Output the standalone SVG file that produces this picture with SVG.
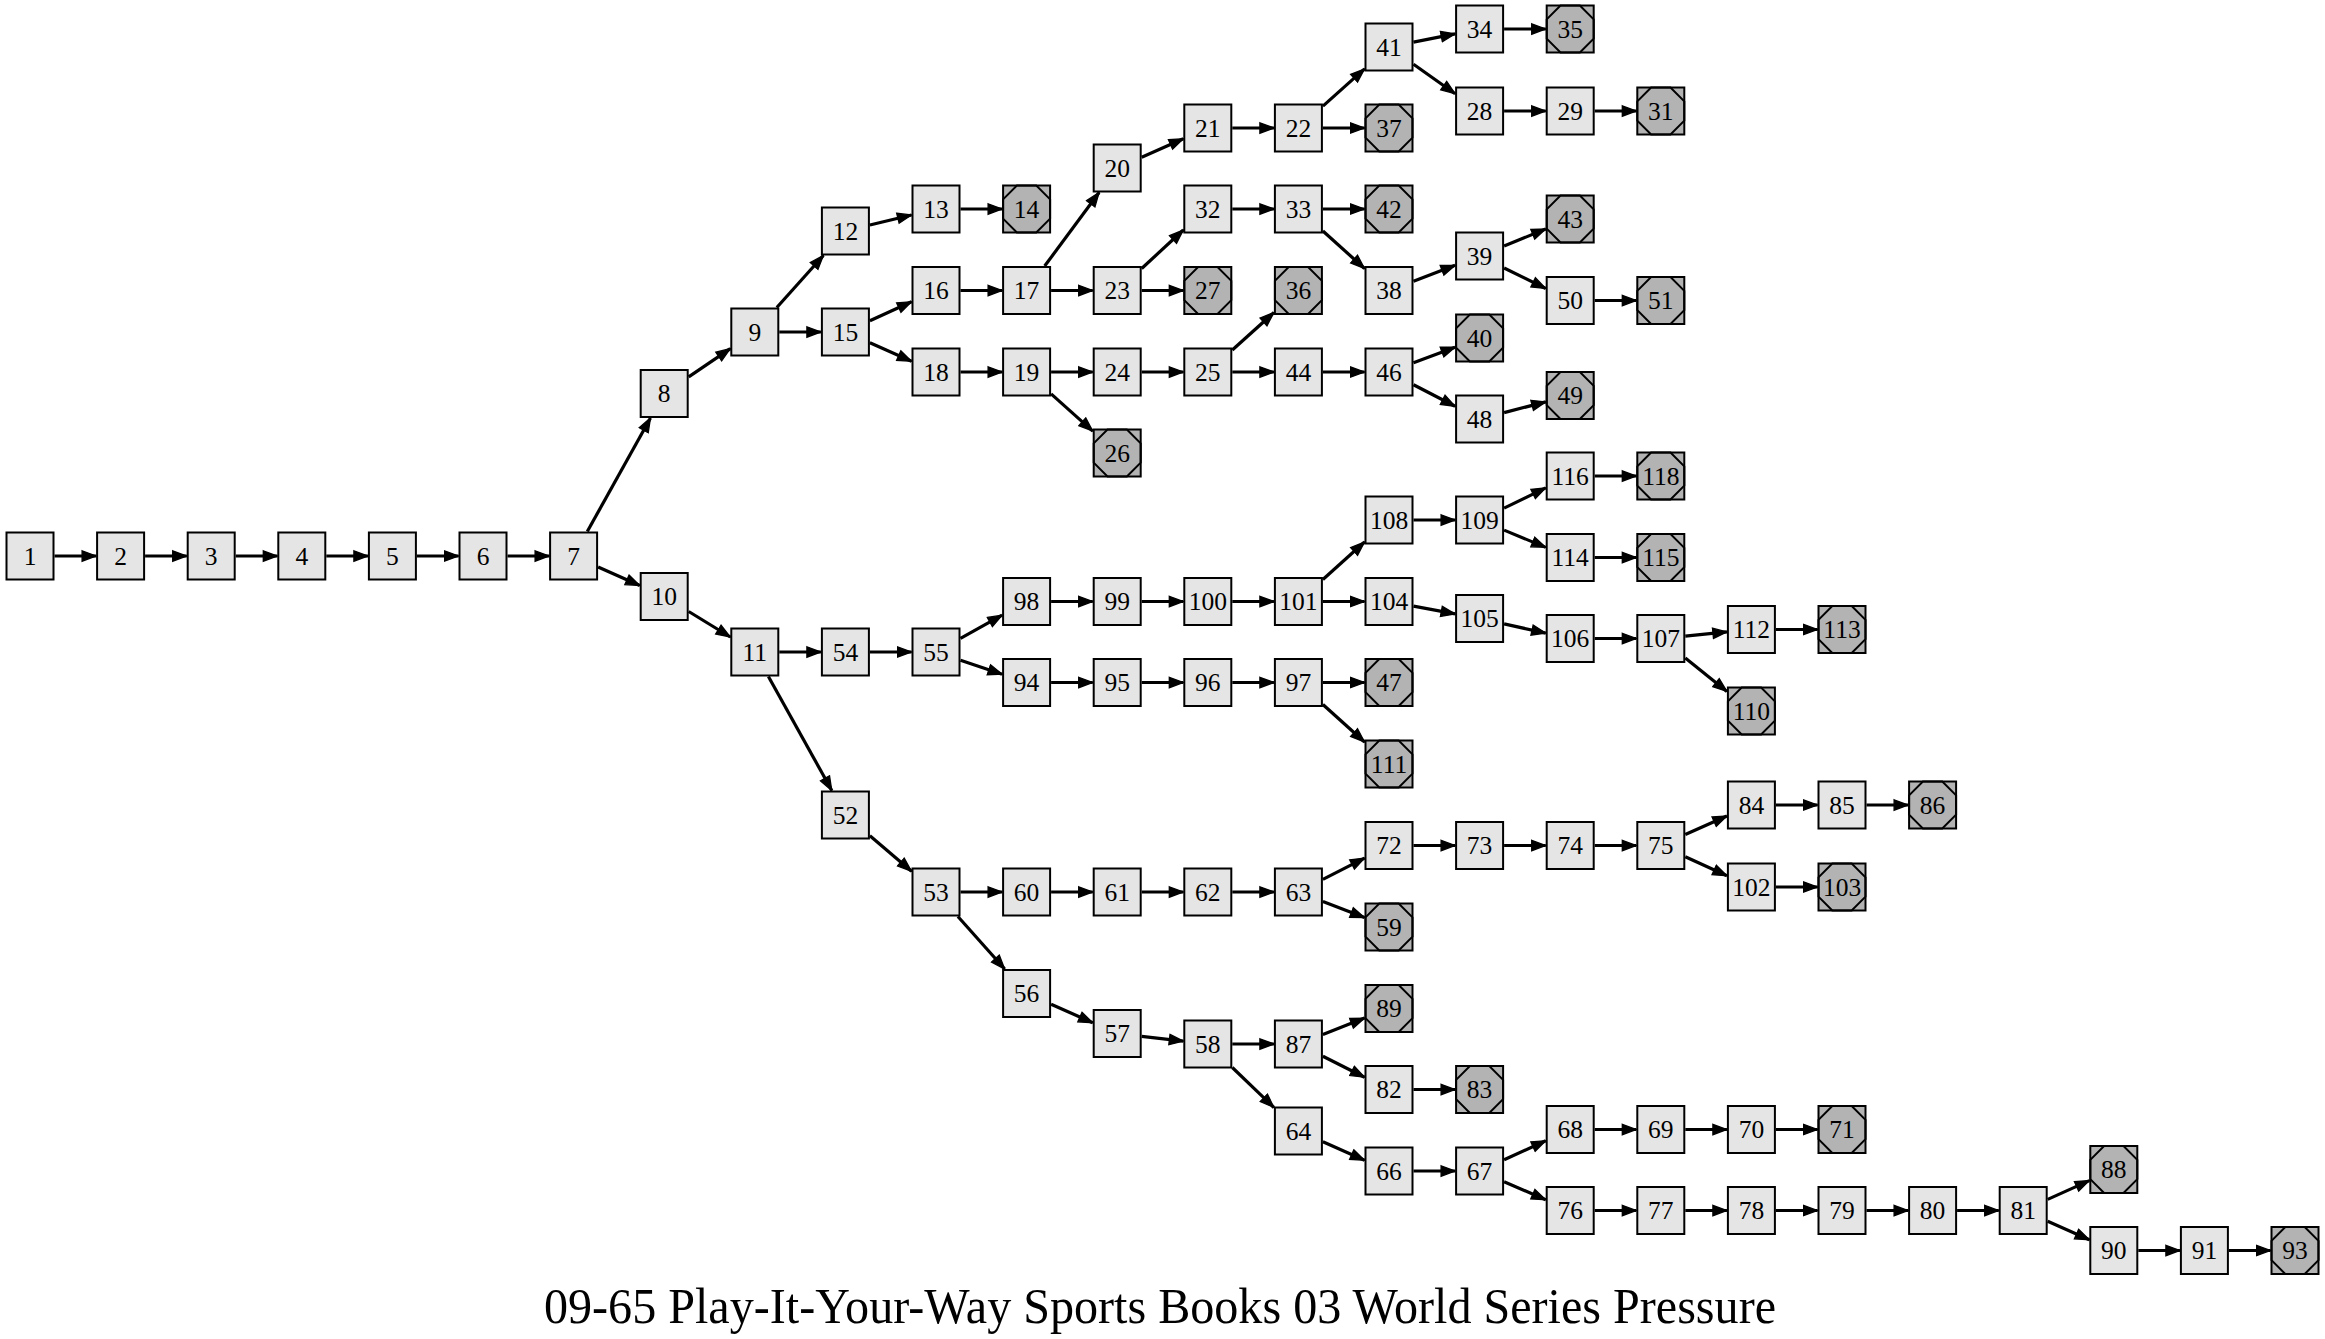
<svg xmlns="http://www.w3.org/2000/svg" xmlns:xlink="http://www.w3.org/1999/xlink" width="2325" height="1339" viewBox="0 0 2325 1339">
<style>
.node{fill:#e5e5e5;stroke:#000;stroke-width:2}
.end{fill:#b3b3b3}
.oct{fill:none}
.node text{fill:#000;stroke:none;font-family:"Liberation Serif","Times New Roman",serif;font-size:25.5px;text-anchor:middle}
#edges line{stroke:#000;stroke-width:3.2;marker-end:url(#arr)}
.title{font-family:"Liberation Serif","Times New Roman",serif;font-size:50px;text-anchor:middle;fill:#000}
</style>
<defs>
<marker id="arr" markerUnits="userSpaceOnUse" markerWidth="18" markerHeight="14" viewBox="0 0 18 14" refX="15" refY="7" orient="auto">
<path d="M1,1.8 L15,7 L1,12.2 z" fill="#000" stroke="#000" stroke-width="1.3"/>
</marker>
<rect id="box" x="-23.5" y="-23.5" width="47" height="47"/>
<polygon id="octp" points="-9.7,-23.5 9.7,-23.5 23.5,-9.7 23.5,9.7 9.7,23.5 -9.7,23.5 -23.5,9.7 -23.5,-9.7"/>
</defs>
<rect width="2325" height="1339" fill="#fff"/>
<g id="edges">
<line x1="54.5" y1="556" x2="96.1" y2="556"/>
<line x1="145.1" y1="556" x2="186.7" y2="556"/>
<line x1="235.7" y1="556" x2="277.3" y2="556"/>
<line x1="326.3" y1="556" x2="367.9" y2="556"/>
<line x1="416.9" y1="556" x2="458.5" y2="556"/>
<line x1="507.5" y1="556" x2="549.1" y2="556"/>
<line x1="587.3" y1="531.5" x2="650.5" y2="418"/>
<line x1="598.1" y1="566.95" x2="639.7" y2="585.55"/>
<line x1="688.7" y1="376.87" x2="730.3" y2="348.63"/>
<line x1="776.8" y1="307.5" x2="823.4" y2="255.5"/>
<line x1="779.3" y1="332" x2="820.9" y2="332"/>
<line x1="869.9" y1="225.05" x2="911.5" y2="214.95"/>
<line x1="960.5" y1="209" x2="1002.1" y2="209"/>
<line x1="869.9" y1="320.78" x2="911.5" y2="301.72"/>
<line x1="869.9" y1="342.82" x2="911.5" y2="361.18"/>
<line x1="960.5" y1="290.5" x2="1002.1" y2="290.5"/>
<line x1="1044.7" y1="266" x2="1099.1" y2="192.5"/>
<line x1="1051.1" y1="290.5" x2="1092.7" y2="290.5"/>
<line x1="1141.7" y1="157.18" x2="1183.3" y2="138.82"/>
<line x1="1232.3" y1="128" x2="1273.9" y2="128"/>
<line x1="1322.9" y1="106.1" x2="1364.5" y2="68.9"/>
<line x1="1322.9" y1="128" x2="1364.5" y2="128"/>
<line x1="1413.5" y1="42.13" x2="1455.1" y2="33.87"/>
<line x1="1413.5" y1="64.31" x2="1455.1" y2="93.69"/>
<line x1="1504.1" y1="29" x2="1545.7" y2="29"/>
<line x1="1504.1" y1="111" x2="1545.7" y2="111"/>
<line x1="1594.7" y1="111" x2="1636.3" y2="111"/>
<line x1="1141.7" y1="268.46" x2="1183.3" y2="230.04"/>
<line x1="1141.7" y1="290.5" x2="1183.3" y2="290.5"/>
<line x1="1232.3" y1="209" x2="1273.9" y2="209"/>
<line x1="1322.9" y1="209" x2="1364.5" y2="209"/>
<line x1="1322.9" y1="231.04" x2="1364.5" y2="268.46"/>
<line x1="1413.5" y1="281.17" x2="1455.1" y2="265.33"/>
<line x1="1504.1" y1="246" x2="1545.7" y2="229"/>
<line x1="1504.1" y1="268.03" x2="1545.7" y2="288.47"/>
<line x1="1594.7" y1="300.5" x2="1636.3" y2="300.5"/>
<line x1="960.5" y1="372" x2="1002.1" y2="372"/>
<line x1="1051.1" y1="372" x2="1092.7" y2="372"/>
<line x1="1051.1" y1="393.9" x2="1092.7" y2="431.1"/>
<line x1="1141.7" y1="372" x2="1183.3" y2="372"/>
<line x1="1232.3" y1="349.96" x2="1273.9" y2="312.54"/>
<line x1="1232.3" y1="372" x2="1273.9" y2="372"/>
<line x1="1322.9" y1="372" x2="1364.5" y2="372"/>
<line x1="1413.5" y1="362.81" x2="1455.1" y2="347.19"/>
<line x1="1413.5" y1="384.71" x2="1455.1" y2="406.29"/>
<line x1="1504.1" y1="412.65" x2="1545.7" y2="401.85"/>
<line x1="688.7" y1="611.51" x2="730.3" y2="636.99"/>
<line x1="779.3" y1="652" x2="820.9" y2="652"/>
<line x1="768.4" y1="676.5" x2="831.8" y2="790.5"/>
<line x1="869.9" y1="652" x2="911.5" y2="652"/>
<line x1="960.5" y1="638.34" x2="1002.1" y2="615.16"/>
<line x1="960.5" y1="660.25" x2="1002.1" y2="674.25"/>
<line x1="1051.1" y1="601.5" x2="1092.7" y2="601.5"/>
<line x1="1141.7" y1="601.5" x2="1183.3" y2="601.5"/>
<line x1="1232.3" y1="601.5" x2="1273.9" y2="601.5"/>
<line x1="1322.9" y1="579.46" x2="1364.5" y2="542.04"/>
<line x1="1322.9" y1="601.5" x2="1364.5" y2="601.5"/>
<line x1="1413.5" y1="520" x2="1455.1" y2="520"/>
<line x1="1504.1" y1="508.1" x2="1545.7" y2="487.9"/>
<line x1="1504.1" y1="530.14" x2="1545.7" y2="547.36"/>
<line x1="1594.7" y1="476" x2="1636.3" y2="476"/>
<line x1="1594.7" y1="557.5" x2="1636.3" y2="557.5"/>
<line x1="1413.5" y1="606.1" x2="1455.1" y2="613.9"/>
<line x1="1504.1" y1="623.91" x2="1545.7" y2="633.09"/>
<line x1="1594.7" y1="638.5" x2="1636.3" y2="638.5"/>
<line x1="1685.3" y1="636.07" x2="1726.9" y2="631.93"/>
<line x1="1685.3" y1="658.1" x2="1726.9" y2="691.4"/>
<line x1="1775.9" y1="629.5" x2="1817.5" y2="629.5"/>
<line x1="1051.1" y1="682.5" x2="1092.7" y2="682.5"/>
<line x1="1141.7" y1="682.5" x2="1183.3" y2="682.5"/>
<line x1="1232.3" y1="682.5" x2="1273.9" y2="682.5"/>
<line x1="1322.9" y1="682.5" x2="1364.5" y2="682.5"/>
<line x1="1322.9" y1="704.54" x2="1364.5" y2="741.96"/>
<line x1="869.9" y1="835.82" x2="911.5" y2="871.18"/>
<line x1="960.5" y1="892" x2="1002.1" y2="892"/>
<line x1="957.9" y1="916.5" x2="1004.7" y2="969"/>
<line x1="1051.1" y1="892" x2="1092.7" y2="892"/>
<line x1="1141.7" y1="892" x2="1183.3" y2="892"/>
<line x1="1232.3" y1="892" x2="1273.9" y2="892"/>
<line x1="1322.9" y1="879.43" x2="1364.5" y2="858.07"/>
<line x1="1322.9" y1="901.46" x2="1364.5" y2="917.54"/>
<line x1="1413.5" y1="845.5" x2="1455.1" y2="845.5"/>
<line x1="1504.1" y1="845.5" x2="1545.7" y2="845.5"/>
<line x1="1594.7" y1="845.5" x2="1636.3" y2="845.5"/>
<line x1="1685.3" y1="834.55" x2="1726.9" y2="815.95"/>
<line x1="1685.3" y1="856.72" x2="1726.9" y2="875.78"/>
<line x1="1775.9" y1="805" x2="1817.5" y2="805"/>
<line x1="1866.5" y1="805" x2="1908.1" y2="805"/>
<line x1="1775.9" y1="887" x2="1817.5" y2="887"/>
<line x1="1051.1" y1="1004.32" x2="1092.7" y2="1022.68"/>
<line x1="1141.7" y1="1036.34" x2="1183.3" y2="1041.16"/>
<line x1="1232.3" y1="1044" x2="1273.9" y2="1044"/>
<line x1="1232.3" y1="1067.52" x2="1273.9" y2="1107.48"/>
<line x1="1322.9" y1="1034.4" x2="1364.5" y2="1018.1"/>
<line x1="1322.9" y1="1056.3" x2="1364.5" y2="1077.2"/>
<line x1="1413.5" y1="1089.5" x2="1455.1" y2="1089.5"/>
<line x1="1322.9" y1="1141.82" x2="1364.5" y2="1160.18"/>
<line x1="1413.5" y1="1171" x2="1455.1" y2="1171"/>
<line x1="1504.1" y1="1159.78" x2="1545.7" y2="1140.72"/>
<line x1="1504.1" y1="1181.68" x2="1545.7" y2="1199.82"/>
<line x1="1594.7" y1="1129.5" x2="1636.3" y2="1129.5"/>
<line x1="1685.3" y1="1129.5" x2="1726.9" y2="1129.5"/>
<line x1="1775.9" y1="1129.5" x2="1817.5" y2="1129.5"/>
<line x1="1594.7" y1="1210.5" x2="1636.3" y2="1210.5"/>
<line x1="1685.3" y1="1210.5" x2="1726.9" y2="1210.5"/>
<line x1="1775.9" y1="1210.5" x2="1817.5" y2="1210.5"/>
<line x1="1866.5" y1="1210.5" x2="1908.1" y2="1210.5"/>
<line x1="1957.1" y1="1210.5" x2="1998.7" y2="1210.5"/>
<line x1="2047.7" y1="1199.41" x2="2089.3" y2="1180.59"/>
<line x1="2047.7" y1="1221.32" x2="2089.3" y2="1239.68"/>
<line x1="2138.3" y1="1250.5" x2="2179.9" y2="1250.5"/>
<line x1="2228.9" y1="1250.5" x2="2270.5" y2="1250.5"/>
</g>
<g id="nodes">
<g id="n1" class="node" transform="translate(30,556)"><use href="#box"/><text y="8.5">1</text></g>
<g id="n2" class="node" transform="translate(120.6,556)"><use href="#box"/><text y="8.5">2</text></g>
<g id="n3" class="node" transform="translate(211.2,556)"><use href="#box"/><text y="8.5">3</text></g>
<g id="n4" class="node" transform="translate(301.8,556)"><use href="#box"/><text y="8.5">4</text></g>
<g id="n5" class="node" transform="translate(392.4,556)"><use href="#box"/><text y="8.5">5</text></g>
<g id="n6" class="node" transform="translate(483,556)"><use href="#box"/><text y="8.5">6</text></g>
<g id="n7" class="node" transform="translate(573.6,556)"><use href="#box"/><text y="8.5">7</text></g>
<g id="n8" class="node" transform="translate(664.2,393.5)"><use href="#box"/><text y="8.5">8</text></g>
<g id="n10" class="node" transform="translate(664.2,596.5)"><use href="#box"/><text y="8.5">10</text></g>
<g id="n9" class="node" transform="translate(754.8,332)"><use href="#box"/><text y="8.5">9</text></g>
<g id="n11" class="node" transform="translate(754.8,652)"><use href="#box"/><text y="8.5">11</text></g>
<g id="n12" class="node" transform="translate(845.4,231)"><use href="#box"/><text y="8.5">12</text></g>
<g id="n15" class="node" transform="translate(845.4,332)"><use href="#box"/><text y="8.5">15</text></g>
<g id="n54" class="node" transform="translate(845.4,652)"><use href="#box"/><text y="8.5">54</text></g>
<g id="n52" class="node" transform="translate(845.4,815)"><use href="#box"/><text y="8.5">52</text></g>
<g id="n13" class="node" transform="translate(936,209)"><use href="#box"/><text y="8.5">13</text></g>
<g id="n16" class="node" transform="translate(936,290.5)"><use href="#box"/><text y="8.5">16</text></g>
<g id="n18" class="node" transform="translate(936,372)"><use href="#box"/><text y="8.5">18</text></g>
<g id="n55" class="node" transform="translate(936,652)"><use href="#box"/><text y="8.5">55</text></g>
<g id="n53" class="node" transform="translate(936,892)"><use href="#box"/><text y="8.5">53</text></g>
<g id="n14" class="node end" transform="translate(1026.6,209)"><use href="#box"/><use href="#octp" class="oct"/><text y="8.5">14</text></g>
<g id="n17" class="node" transform="translate(1026.6,290.5)"><use href="#box"/><text y="8.5">17</text></g>
<g id="n19" class="node" transform="translate(1026.6,372)"><use href="#box"/><text y="8.5">19</text></g>
<g id="n98" class="node" transform="translate(1026.6,601.5)"><use href="#box"/><text y="8.5">98</text></g>
<g id="n94" class="node" transform="translate(1026.6,682.5)"><use href="#box"/><text y="8.5">94</text></g>
<g id="n60" class="node" transform="translate(1026.6,892)"><use href="#box"/><text y="8.5">60</text></g>
<g id="n56" class="node" transform="translate(1026.6,993.5)"><use href="#box"/><text y="8.5">56</text></g>
<g id="n20" class="node" transform="translate(1117.2,168)"><use href="#box"/><text y="8.5">20</text></g>
<g id="n23" class="node" transform="translate(1117.2,290.5)"><use href="#box"/><text y="8.5">23</text></g>
<g id="n24" class="node" transform="translate(1117.2,372)"><use href="#box"/><text y="8.5">24</text></g>
<g id="n26" class="node end" transform="translate(1117.2,453)"><use href="#box"/><use href="#octp" class="oct"/><text y="8.5">26</text></g>
<g id="n99" class="node" transform="translate(1117.2,601.5)"><use href="#box"/><text y="8.5">99</text></g>
<g id="n95" class="node" transform="translate(1117.2,682.5)"><use href="#box"/><text y="8.5">95</text></g>
<g id="n61" class="node" transform="translate(1117.2,892)"><use href="#box"/><text y="8.5">61</text></g>
<g id="n57" class="node" transform="translate(1117.2,1033.5)"><use href="#box"/><text y="8.5">57</text></g>
<g id="n21" class="node" transform="translate(1207.8,128)"><use href="#box"/><text y="8.5">21</text></g>
<g id="n32" class="node" transform="translate(1207.8,209)"><use href="#box"/><text y="8.5">32</text></g>
<g id="n27" class="node end" transform="translate(1207.8,290.5)"><use href="#box"/><use href="#octp" class="oct"/><text y="8.5">27</text></g>
<g id="n25" class="node" transform="translate(1207.8,372)"><use href="#box"/><text y="8.5">25</text></g>
<g id="n100" class="node" transform="translate(1207.8,601.5)"><use href="#box"/><text y="8.5">100</text></g>
<g id="n96" class="node" transform="translate(1207.8,682.5)"><use href="#box"/><text y="8.5">96</text></g>
<g id="n62" class="node" transform="translate(1207.8,892)"><use href="#box"/><text y="8.5">62</text></g>
<g id="n58" class="node" transform="translate(1207.8,1044)"><use href="#box"/><text y="8.5">58</text></g>
<g id="n22" class="node" transform="translate(1298.4,128)"><use href="#box"/><text y="8.5">22</text></g>
<g id="n33" class="node" transform="translate(1298.4,209)"><use href="#box"/><text y="8.5">33</text></g>
<g id="n36" class="node end" transform="translate(1298.4,290.5)"><use href="#box"/><use href="#octp" class="oct"/><text y="8.5">36</text></g>
<g id="n44" class="node" transform="translate(1298.4,372)"><use href="#box"/><text y="8.5">44</text></g>
<g id="n101" class="node" transform="translate(1298.4,601.5)"><use href="#box"/><text y="8.5">101</text></g>
<g id="n97" class="node" transform="translate(1298.4,682.5)"><use href="#box"/><text y="8.5">97</text></g>
<g id="n63" class="node" transform="translate(1298.4,892)"><use href="#box"/><text y="8.5">63</text></g>
<g id="n87" class="node" transform="translate(1298.4,1044)"><use href="#box"/><text y="8.5">87</text></g>
<g id="n64" class="node" transform="translate(1298.4,1131)"><use href="#box"/><text y="8.5">64</text></g>
<g id="n41" class="node" transform="translate(1389,47)"><use href="#box"/><text y="8.5">41</text></g>
<g id="n37" class="node end" transform="translate(1389,128)"><use href="#box"/><use href="#octp" class="oct"/><text y="8.5">37</text></g>
<g id="n42" class="node end" transform="translate(1389,209)"><use href="#box"/><use href="#octp" class="oct"/><text y="8.5">42</text></g>
<g id="n38" class="node" transform="translate(1389,290.5)"><use href="#box"/><text y="8.5">38</text></g>
<g id="n46" class="node" transform="translate(1389,372)"><use href="#box"/><text y="8.5">46</text></g>
<g id="n108" class="node" transform="translate(1389,520)"><use href="#box"/><text y="8.5">108</text></g>
<g id="n104" class="node" transform="translate(1389,601.5)"><use href="#box"/><text y="8.5">104</text></g>
<g id="n47" class="node end" transform="translate(1389,682.5)"><use href="#box"/><use href="#octp" class="oct"/><text y="8.5">47</text></g>
<g id="n111" class="node end" transform="translate(1389,764)"><use href="#box"/><use href="#octp" class="oct"/><text y="8.5">111</text></g>
<g id="n72" class="node" transform="translate(1389,845.5)"><use href="#box"/><text y="8.5">72</text></g>
<g id="n59" class="node end" transform="translate(1389,927)"><use href="#box"/><use href="#octp" class="oct"/><text y="8.5">59</text></g>
<g id="n89" class="node end" transform="translate(1389,1008.5)"><use href="#box"/><use href="#octp" class="oct"/><text y="8.5">89</text></g>
<g id="n82" class="node" transform="translate(1389,1089.5)"><use href="#box"/><text y="8.5">82</text></g>
<g id="n66" class="node" transform="translate(1389,1171)"><use href="#box"/><text y="8.5">66</text></g>
<g id="n34" class="node" transform="translate(1479.6,29)"><use href="#box"/><text y="8.5">34</text></g>
<g id="n28" class="node" transform="translate(1479.6,111)"><use href="#box"/><text y="8.5">28</text></g>
<g id="n39" class="node" transform="translate(1479.6,256)"><use href="#box"/><text y="8.5">39</text></g>
<g id="n40" class="node end" transform="translate(1479.6,338)"><use href="#box"/><use href="#octp" class="oct"/><text y="8.5">40</text></g>
<g id="n48" class="node" transform="translate(1479.6,419)"><use href="#box"/><text y="8.5">48</text></g>
<g id="n109" class="node" transform="translate(1479.6,520)"><use href="#box"/><text y="8.5">109</text></g>
<g id="n105" class="node" transform="translate(1479.6,618.5)"><use href="#box"/><text y="8.5">105</text></g>
<g id="n73" class="node" transform="translate(1479.6,845.5)"><use href="#box"/><text y="8.5">73</text></g>
<g id="n83" class="node end" transform="translate(1479.6,1089.5)"><use href="#box"/><use href="#octp" class="oct"/><text y="8.5">83</text></g>
<g id="n67" class="node" transform="translate(1479.6,1171)"><use href="#box"/><text y="8.5">67</text></g>
<g id="n35" class="node end" transform="translate(1570.2,29)"><use href="#box"/><use href="#octp" class="oct"/><text y="8.5">35</text></g>
<g id="n29" class="node" transform="translate(1570.2,111)"><use href="#box"/><text y="8.5">29</text></g>
<g id="n43" class="node end" transform="translate(1570.2,219)"><use href="#box"/><use href="#octp" class="oct"/><text y="8.5">43</text></g>
<g id="n50" class="node" transform="translate(1570.2,300.5)"><use href="#box"/><text y="8.5">50</text></g>
<g id="n49" class="node end" transform="translate(1570.2,395.5)"><use href="#box"/><use href="#octp" class="oct"/><text y="8.5">49</text></g>
<g id="n116" class="node" transform="translate(1570.2,476)"><use href="#box"/><text y="8.5">116</text></g>
<g id="n114" class="node" transform="translate(1570.2,557.5)"><use href="#box"/><text y="8.5">114</text></g>
<g id="n106" class="node" transform="translate(1570.2,638.5)"><use href="#box"/><text y="8.5">106</text></g>
<g id="n74" class="node" transform="translate(1570.2,845.5)"><use href="#box"/><text y="8.5">74</text></g>
<g id="n68" class="node" transform="translate(1570.2,1129.5)"><use href="#box"/><text y="8.5">68</text></g>
<g id="n76" class="node" transform="translate(1570.2,1210.5)"><use href="#box"/><text y="8.5">76</text></g>
<g id="n31" class="node end" transform="translate(1660.8,111)"><use href="#box"/><use href="#octp" class="oct"/><text y="8.5">31</text></g>
<g id="n51" class="node end" transform="translate(1660.8,300.5)"><use href="#box"/><use href="#octp" class="oct"/><text y="8.5">51</text></g>
<g id="n118" class="node end" transform="translate(1660.8,476)"><use href="#box"/><use href="#octp" class="oct"/><text y="8.5">118</text></g>
<g id="n115" class="node end" transform="translate(1660.8,557.5)"><use href="#box"/><use href="#octp" class="oct"/><text y="8.5">115</text></g>
<g id="n107" class="node" transform="translate(1660.8,638.5)"><use href="#box"/><text y="8.5">107</text></g>
<g id="n75" class="node" transform="translate(1660.8,845.5)"><use href="#box"/><text y="8.5">75</text></g>
<g id="n69" class="node" transform="translate(1660.8,1129.5)"><use href="#box"/><text y="8.5">69</text></g>
<g id="n77" class="node" transform="translate(1660.8,1210.5)"><use href="#box"/><text y="8.5">77</text></g>
<g id="n112" class="node" transform="translate(1751.4,629.5)"><use href="#box"/><text y="8.5">112</text></g>
<g id="n110" class="node end" transform="translate(1751.4,711)"><use href="#box"/><use href="#octp" class="oct"/><text y="8.5">110</text></g>
<g id="n84" class="node" transform="translate(1751.4,805)"><use href="#box"/><text y="8.5">84</text></g>
<g id="n102" class="node" transform="translate(1751.4,887)"><use href="#box"/><text y="8.5">102</text></g>
<g id="n70" class="node" transform="translate(1751.4,1129.5)"><use href="#box"/><text y="8.5">70</text></g>
<g id="n78" class="node" transform="translate(1751.4,1210.5)"><use href="#box"/><text y="8.5">78</text></g>
<g id="n113" class="node end" transform="translate(1842,629.5)"><use href="#box"/><use href="#octp" class="oct"/><text y="8.5">113</text></g>
<g id="n85" class="node" transform="translate(1842,805)"><use href="#box"/><text y="8.5">85</text></g>
<g id="n103" class="node end" transform="translate(1842,887)"><use href="#box"/><use href="#octp" class="oct"/><text y="8.5">103</text></g>
<g id="n71" class="node end" transform="translate(1842,1129.5)"><use href="#box"/><use href="#octp" class="oct"/><text y="8.5">71</text></g>
<g id="n79" class="node" transform="translate(1842,1210.5)"><use href="#box"/><text y="8.5">79</text></g>
<g id="n86" class="node end" transform="translate(1932.6,805)"><use href="#box"/><use href="#octp" class="oct"/><text y="8.5">86</text></g>
<g id="n80" class="node" transform="translate(1932.6,1210.5)"><use href="#box"/><text y="8.5">80</text></g>
<g id="n81" class="node" transform="translate(2023.2,1210.5)"><use href="#box"/><text y="8.5">81</text></g>
<g id="n88" class="node end" transform="translate(2113.8,1169.5)"><use href="#box"/><use href="#octp" class="oct"/><text y="8.5">88</text></g>
<g id="n90" class="node" transform="translate(2113.8,1250.5)"><use href="#box"/><text y="8.5">90</text></g>
<g id="n91" class="node" transform="translate(2204.4,1250.5)"><use href="#box"/><text y="8.5">91</text></g>
<g id="n93" class="node end" transform="translate(2295,1250.5)"><use href="#box"/><use href="#octp" class="oct"/><text y="8.5">93</text></g>
</g>
<text class="title" x="1160" y="1323" textLength="1232" lengthAdjust="spacingAndGlyphs">09-65 Play-It-Your-Way Sports Books 03 World Series Pressure</text>
</svg>
